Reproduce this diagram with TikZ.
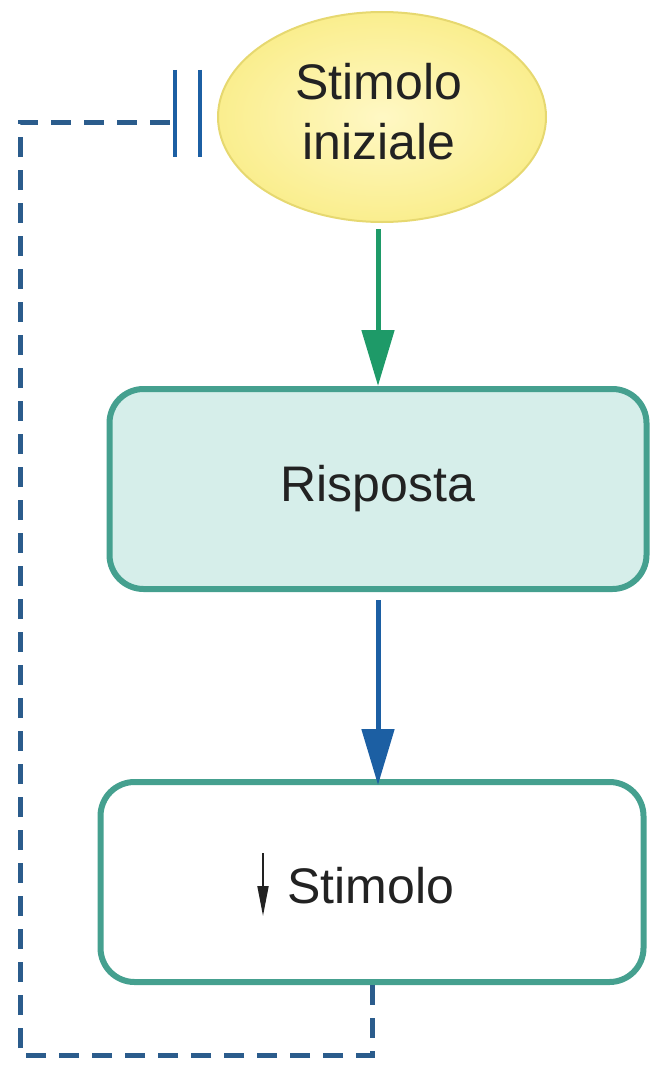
\documentclass[tikz,border=0pt]{standalone}
\usepackage{fontspec}
\setmainfont{Liberation Sans}
\usetikzlibrary{arrows.meta,shapes.geometric}
\definecolor{teal}{HTML}{45A08F}
\definecolor{tealfill}{HTML}{D6EEEA}
\definecolor{ylwfill}{HTML}{FAEE8E}
\definecolor{ylwcore}{HTML}{FFF8C4}
\definecolor{ylwline}{HTML}{E6D870}
\definecolor{greenarr}{HTML}{1E9A68}
\definecolor{bluearr}{HTML}{1C5FA3}
\definecolor{fbline}{HTML}{2B5C8C}
\definecolor{ink}{HTML}{222222}
\tikzset{
  label/.style={font=\fontsize{50}{60}\selectfont, text=ink, inner sep=0pt},
  box/.style={draw=teal, line width=6pt, rounded corners=34pt, minimum height=200pt, inner sep=0pt},
  flow/.style={line width=5pt, -{Triangle[length=56pt,width=32pt]}},
  fb/.style={draw=fbline, line width=5pt, dash pattern=on 20pt off 13pt},
}
\begin{document}
\begin{tikzpicture}[x=1pt,y=-1pt]
\useasboundingbox (0,0) rectangle (650,1065);
% initial stimulus
\node[ellipse, draw=ylwline, inner color=ylwcore, outer color=ylwfill, line width=2pt,
      minimum width=328pt, minimum height=210pt, inner sep=0pt] (stim) at (382,117) {};
\node[label, align=center] (stimtxt) at (379,112) {Stimolo\\iniziale};
% response
\node[box, fill=tealfill, minimum width=537pt, label] (resp) at (378,489) {Risposta};
% reduced stimulus
\node[box, fill=white, minimum width=543pt] (low) at (372,882) {};
\node[label, anchor=base west] (lowtxt) at (287,903) {Stimolo};
\draw[ink, line width=1.8pt, -{Triangle[length=30pt,width=11pt]}] (263,853) -- (263,916);
% forward arrows
\draw[flow, draw=greenarr, fill=greenarr] (stim.south -| resp.north) ++(0,6) coordinate (g0) -- (resp.north);
\draw[flow, draw=bluearr, fill=bluearr] (resp.south) ++(0,8) coordinate (b0) -- ([yshift=-6pt]low.north -| resp.south);
% negative feedback loop
\coordinate (c1) at (20,122);
\coordinate (bar1) at (175,122);
\coordinate (c2) at (20,1055);
\coordinate (c3) at (372,1055);
\draw[fb] (low.south) -- (c3) -- (c2) -- (c1) -- (bar1);
\draw[draw=bluearr, line width=4.5pt] (175,70) -- (175,157) (200,70) -- (200,157);
\end{tikzpicture}
\end{document}
